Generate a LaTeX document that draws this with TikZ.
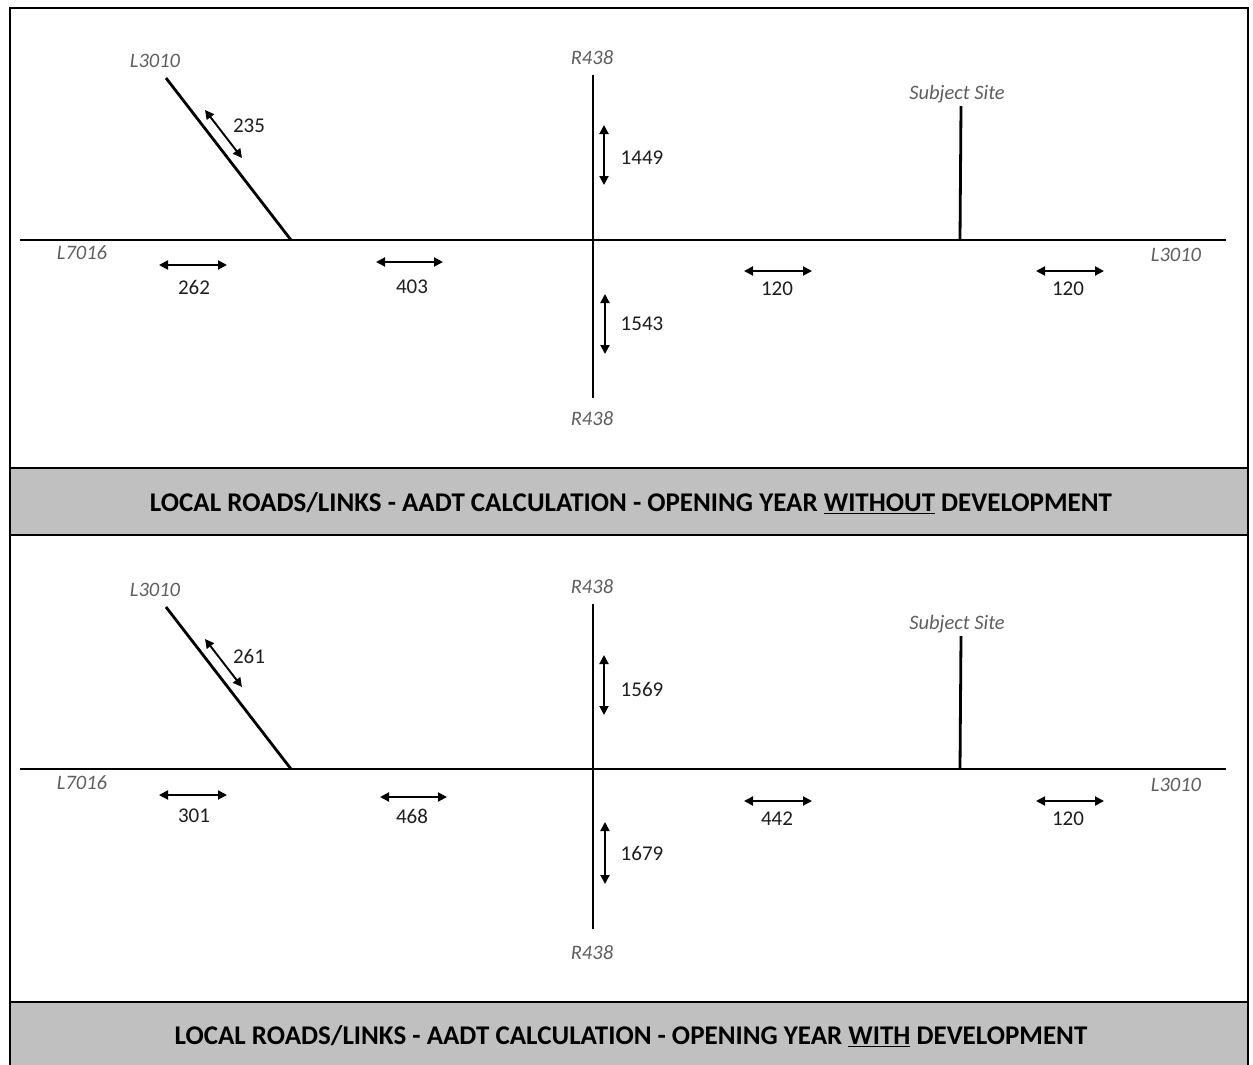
\documentclass[tikz,border=0pt]{standalone}
\usepackage{fontspec}
\setmainfont{Carlito}
\usetikzlibrary{arrows.meta}
\definecolor{bargray}{RGB}{192,192,192}
\definecolor{labgray}{RGB}{95,95,95}
\definecolor{numcol}{RGB}{30,30,30}
\tikzset{
  road/.style={line width=2.8pt, black},
  frame/.style={line width=2.8pt, black},
  dimarrow/.style={line width=1.9pt, {Triangle[length=9pt,width=9pt]}-{Triangle[length=9pt,width=9pt]}},
  roadlab/.style={font=\fontsize{20.5}{22}\selectfont\itshape, text=labgray, inner sep=0pt},
  numlab/.style={font=\fontsize{21}{23}\selectfont, text=numcol, inner sep=0pt},
  titlelab/.style={font=\fontsize{27}{30}\selectfont\bfseries, text=black, inner sep=0pt}
}
\begin{document}
\begin{tikzpicture}[x=1pt,y=-1pt]
\clip (0,0) rectangle (1253,1065);
\fill[white] (0,0) rectangle (1253,1065);
% frame and bars
\fill[bargray] (10,468) rectangle (1248,535);
\fill[bargray] (10,1002) rectangle (1248,1080);
\draw[frame] (10,1080) -- (10,8) -- (1248,8) -- (1248,1080);
\draw[frame] (10,468) -- (1248,468);
\draw[frame] (10,535) -- (1248,535);
\draw[frame] (10,1002) -- (1248,1002);
\node[titlelab] (t1) at (631,503) {LOCAL ROADS/LINKS - AADT CALCULATION - OPENING YEAR \underline{WITHOUT} DEVELOPMENT};
\node[titlelab] (t2) at (631,1036) {LOCAL ROADS/LINKS - AADT CALCULATION - OPENING YEAR \underline{WITH} DEVELOPMENT};

% ===== Top panel =====
\coordinate (aW) at (20,240);
\coordinate (aE) at (1226,240);
\coordinate (aDiagT) at (166,78);
\coordinate (aDiagB) at (291,240);
\coordinate (aRT) at (593,75);
\coordinate (aRB) at (593,398);
\coordinate (aST) at (961,106);
\coordinate (aSB) at (960,240);
\draw[road] (aW) -- (aE);
\draw[road] (aDiagT) -- (aDiagB);
\draw[road] (aRT) -- (aRB);
\draw[road] (aST) -- (aSB);
\node[roadlab] (aL3010a) at (155,61) {L3010};
\node[roadlab] (aR438a) at (592,58) {R438};
\node[roadlab] (aR438b) at (592,419) {R438};
\node[roadlab] (aSite) at (957,94) {Subject Site};
\node[roadlab] (aL7016) at (82,253) {L7016};
\node[roadlab] (aL3010b) at (1176,255) {L3010};
% arrows
\coordinate (a1s) at (205,110); \coordinate (a1e) at (242,158);
\draw[dimarrow] (a1s) -- (a1e);
\node[numlab] (n235) at (249,126) {235};
\coordinate (a2s) at (604,125); \coordinate (a2e) at (604,185);
\draw[dimarrow] (a2s) -- (a2e);
\node[numlab] (n1449) at (642,158) {1449};
\coordinate (a3s) at (605,294); \coordinate (a3e) at (605,354);
\draw[dimarrow] (a3s) -- (a3e);
\node[numlab] (n1543) at (642,324) {1543};
\coordinate (a4s) at (159,265); \coordinate (a4e) at (227,265);
\draw[dimarrow] (a4s) -- (a4e);
\node[numlab] (n262) at (194,287) {262};
\coordinate (a5s) at (376,262); \coordinate (a5e) at (443,262);
\draw[dimarrow] (a5s) -- (a5e);
\node[numlab] (n403) at (412,287) {403};
\coordinate (a6s) at (744,271); \coordinate (a6e) at (812,271);
\draw[dimarrow] (a6s) -- (a6e);
\node[numlab] (n120a) at (777,289) {120};
\coordinate (a7s) at (1036,271); \coordinate (a7e) at (1104,271);
\draw[dimarrow] (a7s) -- (a7e);
\node[numlab] (n120b) at (1068,289) {120};

% ===== Bottom panel =====
\coordinate (bW) at (20,769);
\coordinate (bE) at (1226,769);
\coordinate (bDiagT) at (166,607);
\coordinate (bDiagB) at (291,769);
\coordinate (bRT) at (593,604);
\coordinate (bRB) at (593,929);
\coordinate (bST) at (961,636);
\coordinate (bSB) at (960,769);
\draw[road] (bW) -- (bE);
\draw[road] (bDiagT) -- (bDiagB);
\draw[road] (bRT) -- (bRB);
\draw[road] (bST) -- (bSB);
\node[roadlab] (bL3010a) at (155,590) {L3010};
\node[roadlab] (bR438a) at (592,587) {R438};
\node[roadlab] (bR438b) at (592,953) {R438};
\node[roadlab] (bSite) at (957,624) {Subject Site};
\node[roadlab] (bL7016) at (82,783) {L7016};
\node[roadlab] (bL3010b) at (1176,785) {L3010};
\coordinate (b1s) at (205,639); \coordinate (b1e) at (242,687);
\draw[dimarrow] (b1s) -- (b1e);
\node[numlab] (n261) at (249,656) {261};
\coordinate (b2s) at (604,655); \coordinate (b2e) at (604,715);
\draw[dimarrow] (b2s) -- (b2e);
\node[numlab] (n1569) at (642,689) {1569};
\coordinate (b3s) at (605,822); \coordinate (b3e) at (605,884);
\draw[dimarrow] (b3s) -- (b3e);
\node[numlab] (n1679) at (642,853) {1679};
\coordinate (b4s) at (159,795); \coordinate (b4e) at (227,795);
\draw[dimarrow] (b4s) -- (b4e);
\node[numlab] (n301) at (194,816) {301};
\coordinate (b5s) at (380,797); \coordinate (b5e) at (447,797);
\draw[dimarrow] (b5s) -- (b5e);
\node[numlab] (n468) at (412,816) {468};
\coordinate (b6s) at (744,801); \coordinate (b6e) at (812,801);
\draw[dimarrow] (b6s) -- (b6e);
\node[numlab] (n442) at (777,819) {442};
\coordinate (b7s) at (1036,801); \coordinate (b7e) at (1104,801);
\draw[dimarrow] (b7s) -- (b7e);
\node[numlab] (n120c) at (1068,819) {120};
\end{tikzpicture}
\end{document}
